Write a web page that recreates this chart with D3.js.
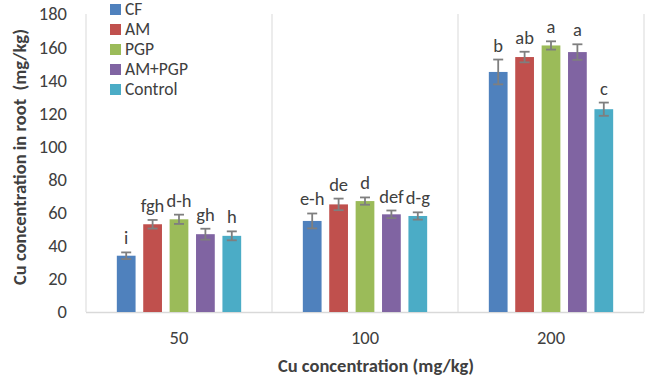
<!DOCTYPE html>
<html>
<head>
<meta charset="utf-8">
<script src="https://cdn.jsdelivr.net/npm/d3@7"></script>
<style>
  body { margin: 0; background: #fff; }
  text { font-family: Calibri, Carlito, "Open Sans", sans-serif; fill: #404040; }
</style>
</head>
<body>
<svg id="chart" width="645" height="378"></svg>
<script>
var doses = ["50", "100", "200"];
var treatments = ["CF", "AM", "PGP", "AM+PGP", "Control"];
var colors = ["#4F81BD", "#C0504D", "#9BBB59", "#8064A2", "#4BACC6"];

// means per treatment, in dose order 50 / 100 / 200
var CF      = [34, 55, 145];
var AM      = [53, 65, 154];
var PGP     = [56, 67, 161];
var AM_PGP  = [47, 59, 157];
var Control = [46, 58, 122.5];

var CF_err      = [2, 4.5, 7.5];
var AM_err      = [2.6, 3.5, 3.2];
var PGP_err     = [2.8, 2.2, 2.5];
var AM_PGP_err  = [3.3, 2.3, 4.7];
var Control_err = [2.7, 2.2, 4];

var CF_lab      = ["i", "e-h", "b"];
var AM_lab      = ["fgh", "de", "ab"];
var PGP_lab     = ["d-h", "d", "a"];
var AM_PGP_lab  = ["gh", "def", "a"];
var Control_lab = ["h", "d-g", "c"];

var yTicks = [0, 20, 40, 60, 80, 100, 120, 140, 160, 180];

var series = [CF, AM, PGP, AM_PGP, Control];
var errs = [CF_err, AM_err, PGP_err, AM_PGP_err, Control_err];
var labs = [CF_lab, AM_lab, PGP_lab, AM_PGP_lab, Control_lab];

var svg = d3.select("#chart");
var plotL = 86, plotR = 644, plotT = 14, plotB = 312;
var fs = "18.5px";

var x0 = d3.scaleBand().domain(doses).range([plotL, plotR]);
var x1 = d3.scaleBand().domain(treatments)
  .range([27, x0.bandwidth() - 27]).paddingInner(0.29).paddingOuter(0.145);
var y = d3.scaleLinear().domain([0, 180]).range([plotB, plotT]);

// category separators
svg.append("g").selectAll("line")
  .data(doses.concat(["end"]))
  .join("line")
  .attr("x1", function(d, i) { return plotL + i * x0.bandwidth(); })
  .attr("x2", function(d, i) { return plotL + i * x0.bandwidth(); })
  .attr("y1", plotT).attr("y2", plotB)
  .attr("stroke", "#d9d9d9").attr("stroke-width", 1);

svg.append("line")
  .attr("x1", plotL).attr("x2", plotR)
  .attr("y1", plotB + 0.5).attr("y2", plotB + 0.5)
  .attr("stroke", "#d9d9d9").attr("stroke-width", 1.5);

// y ticks
svg.append("g").selectAll("text")
  .data(yTicks)
  .join("text")
  .attr("x", 67).attr("y", function(d) { return y(d); })
  .attr("dy", "0.35em").attr("text-anchor", "end")
  .style("font-size", fs)
  .text(function(d) { return d; });

// bars
var groups = svg.append("g").selectAll("g")
  .data(doses)
  .join("g")
  .attr("transform", function(d) { return "translate(" + x0(d) + ",0)"; });

treatments.forEach(function(t, s) {
  groups.append("rect")
    .attr("x", x1(t))
    .attr("width", x1.bandwidth())
    .attr("y", function(d, i) { return y(series[s][i]); })
    .attr("height", function(d, i) { return plotB - y(series[s][i]); })
    .attr("fill", colors[s]);

  // error bars
  var eb = groups.append("g").attr("stroke", "#7f7f7f").attr("stroke-width", 1.8);
  eb.append("line")
    .attr("x1", x1(t) + x1.bandwidth() / 2).attr("x2", x1(t) + x1.bandwidth() / 2)
    .attr("y1", function(d, i) { return y(series[s][i] + errs[s][i]); })
    .attr("y2", function(d, i) { return y(series[s][i] - errs[s][i]); });
  [1, -1].forEach(function(sign) {
    eb.append("line")
      .attr("x1", x1(t) + x1.bandwidth() / 2 - 5).attr("x2", x1(t) + x1.bandwidth() / 2 + 5)
      .attr("y1", function(d, i) { return y(series[s][i] + sign * errs[s][i]); })
      .attr("y2", function(d, i) { return y(series[s][i] + sign * errs[s][i]); });
  });

  // letters
  groups.append("text")
    .attr("x", x1(t) + x1.bandwidth() / 2)
    .attr("y", function(d, i) { return y(series[s][i] + errs[s][i]) - 8; })
    .attr("text-anchor", "middle")
    .style("font-size", fs)
    .text(function(d, i) { return labs[s][i]; });
});

// x labels
svg.append("g").selectAll("text")
  .data(doses)
  .join("text")
  .attr("x", function(d) { return x0(d) + x0.bandwidth() / 2; })
  .attr("y", 344).attr("text-anchor", "middle")
  .style("font-size", fs)
  .text(function(d) { return d; });

svg.append("text")
  .attr("x", 376).attr("y", 372).attr("text-anchor", "middle")
  .style("font-size", fs).style("font-weight", "bold")
  .text("Cu concentration (mg/kg)");

svg.append("text")
  .attr("transform", "translate(26,157) rotate(-90)")
  .attr("text-anchor", "middle")
  .style("font-size", fs).style("font-weight", "bold")
  .style("white-space", "pre")
  .text("Cu concentration in root  (mg/kg)");

// legend
var legend = svg.append("g").selectAll("g")
  .data(treatments)
  .join("g")
  .attr("transform", function(d, i) { return "translate(110," + (9 + i * 20) + ")"; });
legend.append("rect")
  .attr("x", 0).attr("y", -5).attr("width", 11).attr("height", 11)
  .attr("fill", function(d, i) { return colors[i]; });
legend.append("text")
  .attr("x", 15).attr("dy", "0.35em")
  .style("font-size", "17.5px")
  .text(function(d) { return d; });
</script>
</body>
</html>
